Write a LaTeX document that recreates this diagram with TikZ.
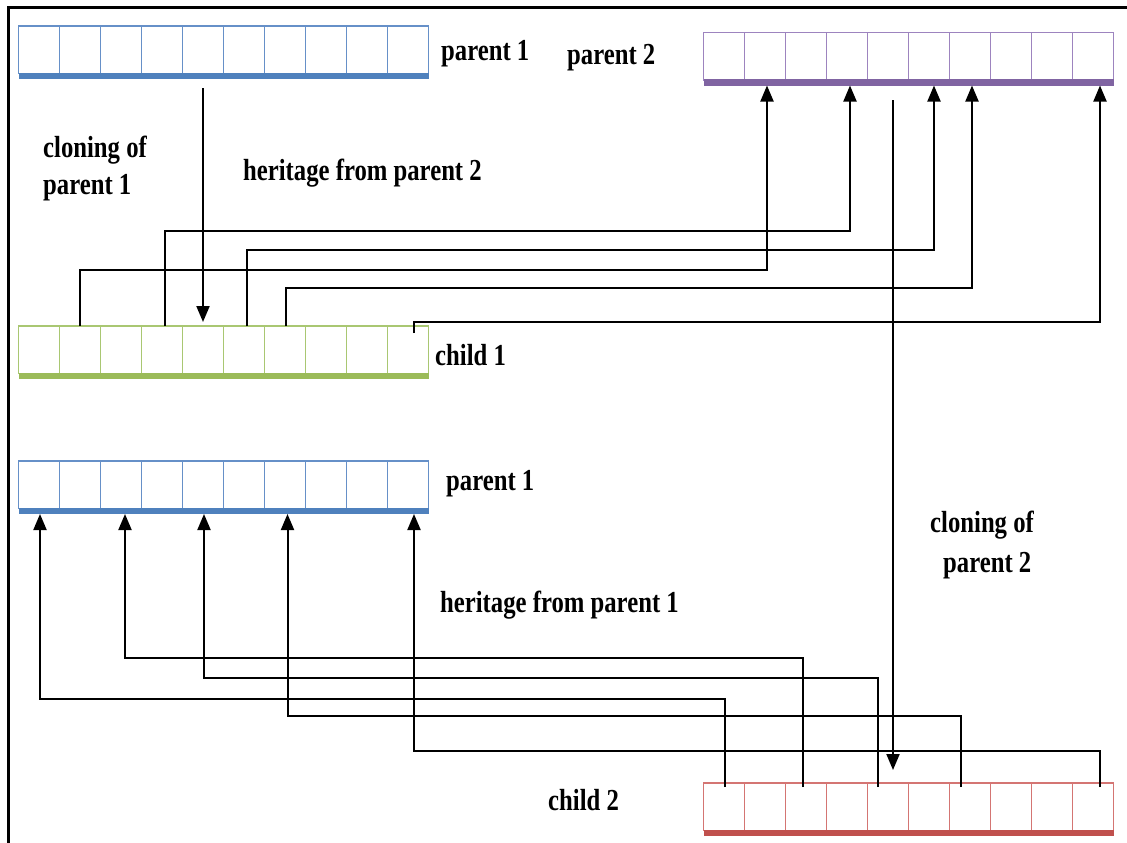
\documentclass[tikz,border=0pt]{standalone}
\usepackage{fontspec}
\newfontfamily\lblfont{Liberation Serif}[FakeStretch=0.81]
\usetikzlibrary{arrows.meta,calc}
\definecolor{bluel}{HTML}{6690C8}
\definecolor{blued}{HTML}{4F81BD}
\definecolor{purpl}{HTML}{9D84BF}
\definecolor{purpd}{HTML}{8064A2}
\definecolor{greenl}{HTML}{A9C772}
\definecolor{greend}{HTML}{9BBB59}
\definecolor{redl}{HTML}{D47573}
\definecolor{redd}{HTML}{C0504D}
\tikzset{
  cell/.style={draw, rectangle, minimum width=41pt, minimum height=47.5pt, inner sep=0pt, outer sep=0pt, line width=1.8pt},
  link/.style={draw=black, line width=2pt},
  arr/.style={link, -{Triangle[length=16pt,width=13pt]}},
  lbl/.style={font=\lblfont\bfseries\fontsize{30.5}{38}\selectfont, inner sep=0pt, anchor=base west},
}
\newcommand\chromo[5]{%
  \foreach \i in {1,...,10}{\node[cell,draw=#4] (#1-\i) at ({#2+(\i-0.5)*41},{#3+23.75}) {};}
  \fill[#5] ([yshift=0.8pt]#1-1.south west) rectangle ([yshift=-5.5pt]#1-10.south east);
}
\begin{document}
\begin{tikzpicture}[x=1pt,y=-1pt]
\useasboundingbox (0,0) rectangle (1127,843);
\fill[white] (0,0) rectangle (1127,843);
\draw[line width=3pt] (1130,8) -- (8,8) -- (8,846);

\chromo{pa}{18.5}{26}{bluel}{blued}
\chromo{pb}{703.5}{32.5}{purpl}{purpd}
\chromo{ca}{18.5}{326}{greenl}{greend}
\chromo{pc}{18.5}{461}{bluel}{blued}
\chromo{cb}{703.5}{783}{redl}{redd}

% labels
\node[lbl] (t1) at (441,61) {parent 1};
\node[lbl] (t2) at (567,64) {parent 2};
\node[lbl] (t3a) at (43,157) {cloning of};
\node[lbl] (t3b) at (43,194) {parent 1};
\node[lbl] (t4) at (243,180) {heritage from parent 2};
\node[lbl] (t5) at (435,365) {child 1};
\node[lbl] (t6) at (446,490) {parent 1};
\node[lbl] (t7a) at (930,532) {cloning of};
\node[lbl] (t7b) at (943,572) {parent 2};
\node[lbl] (t8) at (440,612) {heritage from parent 1};
\node[lbl] (t9) at (548,810) {child 2};

% cloning
\draw[arr] ([yshift=-14.5pt]pa-5.south) -- ([yshift=4pt]ca-5.north);
\draw[arr] ([xshift=5pt,yshift=-20pt]pb-5.south) -- ([xshift=5pt,yshift=13pt]cb-5.north);

% heritage from parent 2
\coordinate (h1) at ([xshift=0pt]ca-2.north);
\coordinate (h2) at ([xshift=3pt]ca-4.north);
\coordinate (h3) at ([xshift=3pt]ca-6.north);
\coordinate (h4) at ([xshift=1pt]ca-7.north);
\coordinate (h5) at ([xshift=6pt,yshift=-7pt]ca-10.north);
\draw[arr] (h1) -- (h1 |- 0,270) -| ([xshift=2pt,yshift=-5.5pt]pb-2.south);
\draw[arr] (h2) -- (h2 |- 0,231) -| ([xshift=3pt,yshift=-5.5pt]pb-4.south);
\draw[arr] (h3) -- (h3 |- 0,250) -| ([xshift=5pt,yshift=-5.5pt]pb-6.south);
\draw[arr] (h4) -- (h4 |- 0,288) -| ([xshift=2pt,yshift=-5.5pt]pb-7.south);
\draw[arr] (h5) -- (h5 |- 0,322) -| ([xshift=7pt,yshift=-5.5pt]pb-10.south);

% heritage from parent 1
\coordinate (g1) at ([xshift=1pt,yshift=-4pt]cb-1.north);
\coordinate (g2) at ([xshift=-3pt,yshift=-4pt]cb-3.north);
\coordinate (g3) at ([xshift=-10.5pt,yshift=-4pt]cb-5.north);
\coordinate (g4) at ([xshift=-9pt,yshift=-4pt]cb-7.north);
\coordinate (g5) at ([xshift=7pt,yshift=-4pt]cb-10.north);
\draw[arr] (g1) -- (g1 |- 0,699) -| ([xshift=1pt,yshift=-5.5pt]pc-1.south);
\draw[arr] (g2) -- (g2 |- 0,658) -| ([xshift=4pt,yshift=-5.5pt]pc-3.south);
\draw[arr] (g3) -- (g3 |- 0,678) -| ([xshift=1pt,yshift=-5.5pt]pc-5.south);
\draw[arr] (g4) -- (g4 |- 0,716) -| ([xshift=2.5pt,yshift=-5.5pt]pc-7.south);
\draw[arr] (g5) -- (g5 |- 0,751) -| ([xshift=6pt,yshift=-5.5pt]pc-10.south);
\end{tikzpicture}
\end{document}
